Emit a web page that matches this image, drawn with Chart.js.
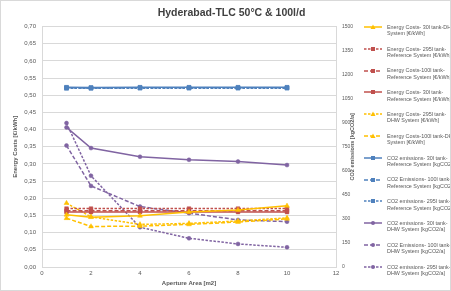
<!DOCTYPE html>
<html><head><meta charset="utf-8">
<script src="https://cdn.jsdelivr.net/npm/chart.js@4.4.1/dist/chart.umd.min.js"></script>
<style>
html,body{margin:0;padding:0;background:#fff;}
#wrap{position:relative;width:451px;height:291px;overflow:hidden;font-family:'Liberation Sans',Arial,sans-serif;background:#fff;}
#frame{position:absolute;left:0;top:0;width:451px;height:291px;box-sizing:border-box;border:1px solid #d9d9d9;pointer-events:none;}
#legend{position:absolute;left:0;top:0;width:451px;height:291px;}
.li{position:absolute;left:363px;white-space:nowrap;font-size:5.4px;line-height:6.5px;color:#595959;}
.li svg{position:absolute;left:0;top:-0.75px;}
.li span{position:absolute;left:24px;top:0;}
</style></head>
<body><div id="wrap"><canvas id="c" width="451" height="291"></canvas><div id="legend"></div><div id="frame"></div></div>
<script>
// ---- data ----
const apertureArea = [1, 2, 4, 6, 8, 10];
// Energy costs [€/kWh] (left axis)
const costDhw30  = [0.152, 0.145, 0.149, 0.160, 0.166, 0.178];
const costRef295 = [0.170, 0.170, 0.170, 0.170, 0.170, 0.170];
const costRef100 = [0.164, 0.164, 0.164, 0.164, 0.164, 0.164];
const costRef30  = [0.160, 0.160, 0.160, 0.160, 0.160, 0.160];
const costDhw295 = [0.186, 0.146, 0.124, 0.127, 0.134, 0.143];
const costDhw100 = [0.142, 0.118, 0.119, 0.124, 0.131, 0.140];
// CO2 emissions [kgCO2/a] (right axis)
const co2Ref30  = [1121, 1120, 1121, 1121, 1121, 1121];
const co2Ref100 = [1118, 1117, 1118, 1118, 1118, 1118];
const co2Ref295 = [1115, 1115, 1116, 1116, 1116, 1116];
const co2Dhw30  = [871, 742, 688, 669, 658, 636];
const co2Dhw100 = [758, 506, 377, 336, 294, 283];
const co2Dhw295 = [898, 569, 248, 179, 144, 123];

const xTicks = [0, 2, 4, 6, 8, 10, 12];
const legendLines = [
  ['Energy Costs- 30l tank-DHW', 'System [€/kWh]'],
  ['Energy Costs- 295l tank-', 'Reference System [€/kWh]'],
  ['Energy Costs-100l tank-', 'Reference System [€/kWh]'],
  ['Energy Costs- 30l tank-', 'Reference System [€/kWh]'],
  ['Energy Costs- 295l tank-', 'DHW System [€/kWh]'],
  ['Energy Costs-100l tank-DHW', 'System [€/kWh]'],
  ['CO2 emissions- 30l tank-', 'Reference System [kgCO2/a]'],
  ['CO2 Emissions- 100l tank-', 'Reference System [kgCO2/a]'],
  ['CO2 emissions- 295l tank-', 'Reference System [kgCO2/a]'],
  ['CO2 emissions- 30l tank-', 'DHW System [kgCO2/a]'],
  ['CO2 Emissions- 100l tank-', 'DHW System [kgCO2/a]'],
  ['CO2 emissions- 295l tank-', 'DHW System [kgCO2/a]']
];
const rightTitle = 'CO2 emissions [kgCO2/a]';

// ---- styles ----
const YEL = '#FFC000', RED = '#C0504D', BLU = '#4F81BD', PUR = '#8064A2';
const DASH = [4, 2], DOT = [2.5, 1.5];
const series = [
  {v: costDhw30,  c: YEL, d: [],   p: 'triangle', r: 2.8, ax: 'y'},
  {v: costRef295, c: RED, d: DOT,  p: 'rect',     r: 2.6, ax: 'y'},
  {v: costRef100, c: RED, d: DASH, p: 'rect',     r: 2.6, ax: 'y'},
  {v: costRef30,  c: RED, d: [],   p: 'rect',     r: 2.6, ax: 'y'},
  {v: costDhw295, c: YEL, d: DOT,  p: 'triangle', r: 2.8, ax: 'y'},
  {v: costDhw100, c: YEL, d: DASH, p: 'triangle', r: 2.8, ax: 'y'},
  {v: co2Ref30,   c: BLU, d: [],   p: 'rect',     r: 2.8, ax: 'y1'},
  {v: co2Ref100,  c: BLU, d: DASH, p: 'rect',     r: 2.8, ax: 'y1'},
  {v: co2Ref295,  c: BLU, d: DOT,  p: 'rect',     r: 2.8, ax: 'y1'},
  {v: co2Dhw30,   c: PUR, d: [],   p: 'circle',   r: 2.0, ax: 'y1'},
  {v: co2Dhw100,  c: PUR, d: DASH, p: 'circle',   r: 2.0, ax: 'y1'},
  {v: co2Dhw295,  c: PUR, d: DOT,  p: 'circle',   r: 2.0, ax: 'y1'}
];

const datasets = series.map((s, i) => ({
  label: legendLines[i].join(' '),
  data: apertureArea.map((x, k) => ({x: x, y: s.v[k]})),
  yAxisID: s.ax,
  borderColor: s.c, backgroundColor: s.c,
  borderWidth: 1.5, borderDash: s.d,
  pointStyle: s.p, pointRadius: s.r, pointBorderWidth: 0.5,
  pointBorderColor: s.c, pointBackgroundColor: s.c,
  tension: 0, fill: false
}));

const FONT = 'Liberation Sans';
const TXT = '#595959';
const GRID = '#d9d9d9';

// right-axis title reading bottom-to-top, as in the reference
const rightTitlePlugin = {
  id: 'rightTitle',
  afterDraw(ch) {
    const s = ch.scales.y1, ctx = ch.ctx;
    ctx.save();
    ctx.translate(s.right - 5.5, (ch.chartArea.top + ch.chartArea.bottom) / 2);
    ctx.rotate(-Math.PI / 2);
    ctx.font = 'bold 5.5px "' + FONT + '"';
    ctx.fillStyle = TXT; ctx.textAlign = 'center'; ctx.textBaseline = 'middle';
    ctx.fillText(rightTitle, 0, 0);
    ctx.restore();
  }
};

const chart = new Chart(document.getElementById('c'), {
  type: 'line',
  data: {datasets},
  plugins: [rightTitlePlugin],
  options: {
    responsive: false, animation: false, devicePixelRatio: 1,
    layout: {padding: {left: 12, right: 0, top: 0, bottom: 0}},
    plugins: {
      legend: {display: false}, tooltip: {enabled: false},
      title: {display: true, text: 'Hyderabad-TLC 50°C & 100l/d', color: '#404040',
        font: {family: FONT, size: 10.5, weight: 'bold'}, padding: {top: 7, bottom: 7}}
    },
    scales: {
      x: {type: 'linear', min: 0, max: 12,
        afterBuildTicks: s => { s.ticks = xTicks.map(v => ({value: v})); },
        afterFit: s => { s.height = 24; },
        grid: {display: false, drawTicks: false},
        border: {display: true, color: GRID},
        ticks: {color: TXT, font: {family: FONT, size: 6}, padding: 3, maxRotation: 0},
        title: {display: true, text: 'Aperture Area [m2]', color: TXT,
          font: {family: FONT, size: 6, weight: 'bold'}, padding: {top: 0, bottom: 4.5}}
      },
      y: {type: 'linear', position: 'left', min: 0, max: 0.7,
        afterFit: s => { s.width = 30; },
        grid: {color: GRID, drawTicks: false},
        border: {display: true, color: GRID},
        ticks: {stepSize: 0.05, color: TXT, font: {family: FONT, size: 6}, padding: 6,
          callback: v => v.toFixed(2).replace('.', ',')},
        title: {display: true, text: 'Energy Costs [€/kWh]', color: TXT,
          font: {family: FONT, size: 6, weight: 'bold'}, padding: {top: 0, bottom: 0}}
      },
      y1: {type: 'linear', position: 'right', min: 0, max: 1500,
        afterFit: s => { s.width = 22; },
        grid: {display: false, drawTicks: false},
        border: {display: true, color: GRID},
        ticks: {stepSize: 150, color: TXT, font: {family: FONT, size: 5}, padding: 6,
          callback: v => String(v)},
        title: {display: false}
      },
      legendSpace: {type: 'linear', position: 'right', weight: 10, display: true,
        afterFit: s => { s.width = 93; },
        grid: {display: false, drawTicks: false}, border: {display: false},
        ticks: {display: false}}
    }
  }
});

// ---- HTML legend built from the chart's datasets ----
const leg = document.getElementById('legend');
chart.data.datasets.forEach((ds, i) => {
  const s = series[i];
  const div = document.createElement('div');
  div.className = 'li';
  div.style.top = (27 + i * 21.8 - 3.25) + 'px';
  const dash = (ds.borderDash && ds.borderDash.length) ? `stroke-dasharray="${ds.borderDash.join(' ')}"` : '';
  let mk = '';
  const cx = 10, cy = 4;
  if (s.p === 'circle') mk = `<circle cx="${cx}" cy="${cy}" r="2" fill="${s.c}"/>`;
  else if (s.p === 'rect') mk = `<rect x="${cx-2}" y="${cy-2}" width="4" height="4" fill="${s.c}"/>`;
  else mk = `<polygon points="${cx},${cy-2.5} ${cx+2.5},${cy+2} ${cx-2.5},${cy+2}" fill="${s.c}"/>`;
  div.innerHTML = `<svg width="20" height="8"><line x1="1" y1="${cy}" x2="19" y2="${cy}" stroke="${s.c}" stroke-width="1.5" ${dash}/>${mk}</svg>` +
    `<span>${legendLines[i][0]}<br>${legendLines[i][1]}</span>`;
  leg.appendChild(div);
});
</script>
</body></html>
